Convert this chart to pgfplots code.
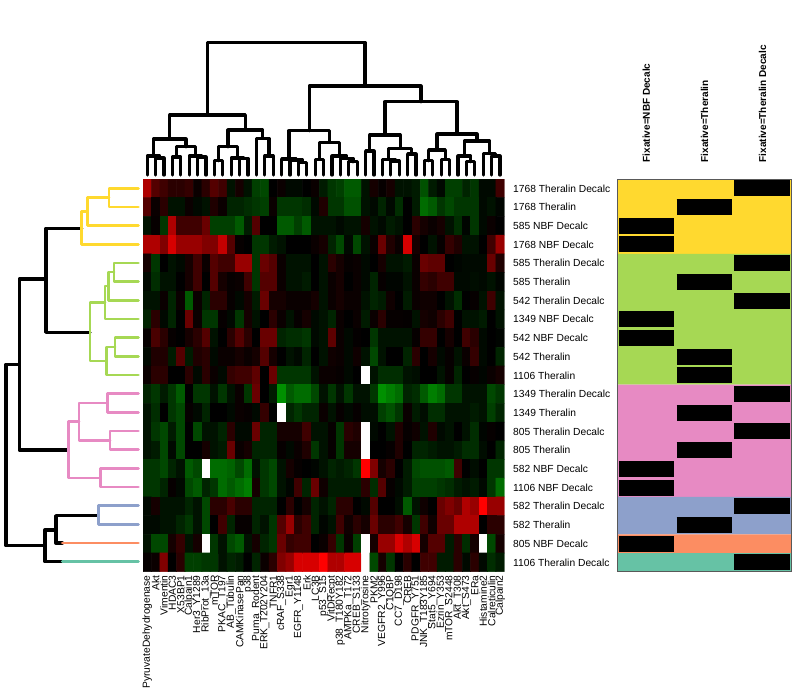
\documentclass[border=0pt]{standalone}
\usepackage{fontspec}
\setmainfont{Liberation Sans}
\usepackage{pgfplots}
\pgfplotsset{compat=1.18}
\definecolor{cyellow}{RGB}{255,217,47}
\definecolor{cgreen}{RGB}{166,216,84}
\definecolor{cpink}{RGB}{231,138,195}
\definecolor{cblue}{RGB}{141,160,203}
\definecolor{corange}{RGB}{252,141,98}
\definecolor{cteal}{RGB}{102,194,165}
\newcommand{\lab}{\fontsize{7.7}{8}\selectfont}
\begin{document}
\begin{tikzpicture}
\path[use as bounding box] (0,0) rectangle (600pt,520.5pt);

% heatmap: values -10 (green) .. 10 (red), 11 = missing (white), top row first
\begin{axis}[
  at={(107.25pt,91.725pt)}, anchor=south west, scale only axis,
  width=270.975pt, height=294.525pt,
  xmin=-0.5, xmax=42.5, ymin=-0.5, ymax=20.5,
  axis line style={draw=none}, major tick length=0, tick style={draw=none},
  colormap={gbr}{[1pt] rgb255(0pt)=(0,180,0); rgb255(10pt)=(0,0,0); rgb255(15pt)=(105,0,0); rgb255(18pt)=(175,0,0); rgb255(20pt)=(255,0,0); rgb255(21pt)=(255,255,255)},
  point meta min=-10, point meta max=11,
  xtick={0,...,42},
  xticklabels={PyruvateDehydrogenase,Akt,Vimentin,HDAC3,X53BP1,Calpain1,Her3\_Y1289,RibProt\_13a,mTOR,PKAC\_T197,AB\_Tubulin,CAMKinasePan,p38,Puma\_Rodent,ERK\_T202Y204,TNFR1,cRAF\_S338,Egr1,EGFR\_Y1148,Erk,LC3B,p53\_S15,VitDRecpt,p38\_T180Y182,AMPKa\_T172,CREB\_S133,Nitrotyrosine,PKM2,VEGFR2\_Y996,C1QBP,CC7\_D198,CREB,PDGFR\_Y751,JNK\_T183Y185,Stat5\_Y694,Ezrin\_Y353,mTOR\_S2448,Akt\_T308,Akt\_S473,ERa,Histamine2,Calreticulin,Calpain2},
  xticklabel style={rotate=90, anchor=east, font=\lab, inner sep=0pt},
  xticklabel shift=2.6pt,
  ytick={0,...,20},
  yticklabels={1106 Theralin Decalc,805 NBF Decalc,582 Theralin,582 Theralin Decalc,1106 NBF Decalc,582 NBF Decalc,805 Theralin,805 Theralin Decalc,1349 Theralin,1349 Theralin Decalc,1106 Theralin,542 Theralin,542 NBF Decalc,1349 NBF Decalc,542 Theralin Decalc,585 Theralin,585 Theralin Decalc,1768 NBF Decalc,585 NBF Decalc,1768 Theralin,1768 Theralin Decalc},
  yticklabel pos=right,
  yticklabel style={anchor=west, font=\lab, inner sep=0pt},
  yticklabel shift=6.5pt,
]
\addplot[matrix plot*, mesh/cols=43, point meta=explicit] table[
  row sep=\\, header=false,
  x expr={mod(\coordindex,43)}, y expr={20-floor((\coordindex+0.5)/43)}, meta index=0] {
8\\4\\3\\2\\2\\2.5\\0.5\\2\\4\\3\\-1\\1\\-1\\-3.5\\-4\\0\\0.5\\-0.5\\-0.5\\0\\0.5\\-1.5\\-3\\-3.5\\-5\\-5\\-1\\1\\0.3\\1\\-1\\-1\\-1.5\\-4.5\\-1.5\\-0.5\\-3.5\\-3.5\\-2\\-3\\-0.5\\-0.5\\3\\
4\\0.5\\2\\-1\\-1\\0.5\\-0.5\\-1\\1.5\\0.5\\-2\\-2\\-2.5\\-3\\-3.5\\0.5\\-3\\-3\\-3\\-2.5\\-0.5\\1.5\\-3\\-3\\-4.5\\-4.5\\-1\\-0.5\\-2\\-0.5\\-2.5\\0\\-1.5\\-6\\-5\\-3\\-4\\-3\\-3\\-3\\-0.5\\-1\\-0.3\\
-1\\0.3\\-3\\8\\3\\3\\3\\5\\-3.5\\-3.5\\-3.5\\-5\\-1.5\\4\\0\\0\\-5\\-5\\-3.5\\-5\\-1\\-1\\-1\\-0.5\\-1\\-1\\1\\-1\\-0.5\\-1.5\\-1\\0\\2\\1\\0.5\\1\\-1\\-2.5\\-0.3\\-3\\-0.5\\0.5\\0\\
8\\8\\6\\9\\7\\7\\7\\6\\6\\8.5\\4\\0.3\\0\\-3\\-3\\-1.5\\-1\\0\\0\\0\\0.5\\1\\-2\\-4\\-0.5\\-4\\-1\\0.5\\5\\1.5\\0.5\\9\\1\\0\\-1\\0.3\\2.5\\1.5\\-1\\-1\\0\\3\\7\\
1\\-3\\0\\-1\\-0.5\\1\\3\\0.5\\4\\3\\3\\7\\7\\-3\\5\\4\\0.5\\-1\\-1\\-1\\0\\-1\\2\\1\\0.3\\0.5\\-0.5\\0\\1\\-1\\-1\\-1.5\\0.5\\5\\4.5\\4.5\\0\\-0.3\\-0.5\\-0.5\\-0.5\\5\\1.5\\
-0.5\\-2.5\\-1\\-1\\0\\1\\3\\0\\4\\1\\0.3\\0.5\\3\\-3\\4\\4\\0.5\\-1\\-1\\-1.5\\0\\-1\\0.5\\1\\0\\0.5\\-0.5\\-2\\0.3\\-0.3\\-0.3\\-1\\0.5\\2.5\\2\\3\\3\\-0.5\\-0.5\\-0.7\\-0.5\\-1\\-0.3\\
-1\\-1\\0.5\\-2\\0.5\\-5\\0.5\\-2\\2\\2\\0.3\\-0.5\\1\\-1.5\\5\\1\\1\\0.5\\0.5\\0.5\\1\\-1\\0.5\\1\\0.5\\0.5\\-1\\-2\\-1.5\\0.7\\0\\-1.5\\0.5\\0.7\\0.7\\0\\-1\\-2.5\\0\\0.3\\-1\\3\\-1\\
-2\\2\\-0.5\\-2\\0\\5\\0.5\\-3\\-3\\0.3\\-0.5\\-3\\1\\-1\\0\\2\\0.5\\-1\\0.3\\1\\-0.5\\-1\\-2\\0.5\\0\\0.5\\-1.5\\0.5\\2\\0.3\\0.3\\0.2\\-1\\1\\0.7\\2\\3\\0\\-1\\-1\\-1.5\\0\\-1\\
0.3\\3.5\\2\\0.3\\0\\1\\2\\4\\-1\\0\\2\\4\\2\\0\\5\\5\\-2\\-2.5\\-2.5\\-3\\-0.5\\-1\\4.5\\0.5\\-0.5\\0.2\\0\\-3\\-1\\-1\\-1\\-1\\0.3\\2.5\\2.5\\0\\1\\0\\3\\2\\-0.5\\0\\-0.3\\
-0.5\\1.5\\1.5\\-1.5\\4\\-1.5\\1.5\\2\\-0.5\\0.5\\0.5\\1\\0.5\\1\\4\\1\\0\\-1\\-0.5\\-2\\0\\-1\\0.7\\0.5\\-0.5\\0.7\\-1\\-4\\-1\\0\\0\\-2\\2\\0\\1\\-0.5\\0.3\\-1\\0.5\\2.5\\-0.5\\0\\-2\\
0.5\\2\\2\\0\\0\\2\\-0.5\\2\\0.5\\-0.5\\2.5\\3\\3\\4.5\\0\\5\\-3\\-3\\-3\\-3\\-1\\0.5\\0.5\\0.3\\-0.5\\0\\11\\-1\\-2.5\\-2.5\\-2.5\\-1\\-0.7\\0\\0\\-1\\0.3\\-2\\0\\0.3\\-0.3\\0.5\\1\\
-2\\-3\\-1.5\\-3\\-5\\0\\-3\\-3\\-1\\-3\\-1\\0.5\\-3\\5\\0\\-1.5\\-8\\-5\\-6\\-6\\-4\\-1\\-3\\-1\\-3\\-1\\-1\\-3\\-8\\-7\\-6\\-2\\-2.5\\-5\\-7\\-6\\-3\\-3\\-1\\-1\\-1\\-4\\-3\\
-1\\-2.5\\0\\-3\\-4\\0.3\\-0.5\\-2\\0\\0\\-0.5\\0.5\\0.3\\-0.5\\2.5\\0\\11\\-2\\-3\\-2\\-2\\0.5\\-1\\0.3\\-0.5\\0.3\\-0.7\\-0.7\\-3.5\\-4.5\\-3\\0.5\\-1.5\\-0.7\\-2.5\\-2.5\\-1\\-1\\-1\\-1.5\\-1\\-3.5\\-2\\
-1\\-3\\-4\\-1.5\\-4\\0\\-4\\-1\\-1\\-2\\2\\-0.5\\-0.5\\5\\-2\\-2\\1\\1\\1\\3\\-1\\-1\\0.3\\-3\\2\\1.5\\11\\-0.5\\0\\-1\\1.5\\0.3\\0.7\\-1\\1.5\\-0.5\\-1\\0\\-1\\-2.5\\-0.3\\0.3\\0\\
-1\\-1.5\\-4\\-0.5\\-4\\0\\0\\1\\-1\\-1.5\\5\\0.5\\1\\-2\\-2\\-2\\0.3\\-0.5\\0.5\\1.5\\-3\\-1\\0.3\\-3\\1\\1\\11\\0\\0\\0.3\\1.5\\0\\-2\\-2\\-1.5\\-1\\-1\\-1.5\\-2.5\\-2.5\\-0.7\\0\\-2\\
-3\\-3\\-4\\-2\\-1\\-5\\-4\\11\\-6\\-6\\-5.5\\-4\\-6\\-1\\-3\\-4\\-1\\1\\0.3\\0\\-0.3\\-1\\-2\\-1.5\\-2\\-3\\10\\6\\1\\2\\0\\-1.5\\-4\\-4.5\\-4.5\\-4.5\\-5\\3\\0\\-0.7\\0\\-3\\-3\\
-3\\-3\\-2\\0.3\\-0.5\\-4\\-5\\-2\\-3\\-6\\-5\\-6\\-7\\1\\-3\\-4\\-1\\-0.3\\3\\-2\\5\\0.7\\-1.5\\-1.5\\-1.5\\-1.5\\2\\-2.5\\4\\0.3\\-0.5\\-1.5\\-3.5\\-3.5\\-3.5\\-3\\-2.5\\-1.5\\-1\\-1.5\\-0.5\\-3\\-6\\
-0.5\\1\\-1\\-1\\-1\\-2\\-1\\-4\\2\\2\\3.5\\2\\2\\-2\\-2\\-2\\0\\2\\0\\1\\-2\\-1\\-2\\2\\2\\0\\-0.5\\4\\0\\0\\-0.7\\-5\\-1\\0.7\\0\\5\\6\\5\\8\\7\\10\\7\\7\\
-0.5\\-0.5\\-1\\-1\\-2\\-3\\-1\\-4\\0\\3\\-2\\0.3\\0.3\\-2\\-1\\-3\\4\\7\\2\\3\\-2\\-0.3\\-1\\3\\0.7\\2\\1\\5\\2\\2\\3\\1\\-3\\3\\0.7\\5\\5\\8\\8\\8\\0\\2\\2\\
-1\\-4\\-4\\1\\2.5\\-1\\1\\11\\-3\\-1\\-4\\-5\\-1\\1\\-2\\-3\\5\\2.5\\3\\3\\0\\0.5\\2.5\\-3\\0.5\\-3.5\\11\\1\\7\\7\\9\\8\\9\\1\\4\\4\\-1.5\\2\\-2.5\\1\\11\\-4\\1\\
0.3\\0.5\\6\\0\\2\\-3.5\\-3.5\\-3\\-3\\-1\\-2\\-1.5\\0\\-2\\0.5\\2\\6\\7\\9\\9\\9\\10\\8\\8\\9\\9\\11\\-4\\1\\-3\\0\\2\\0\\3\\3\\-1.5\\-1.5\\2\\-0.5\\2\\-0.5\\-2.5\\-1.5\\
};
\end{axis}

% annotation panel
\begin{axis}[
  at={(462.975pt,91.725pt)}, anchor=south west, scale only axis,
  width=130.8pt, height=294.525pt,
  xmin=0, xmax=3, ymin=0, ymax=21,
  axis line style={draw=black!65, line width=0.7pt}, axis on top,
  major tick length=0, tick style={draw=none},
  ytick=\empty,
  xtick={0.5,1.5,2.5},
  xticklabels={Fixative=NBF Decalc,Fixative=Theralin,Fixative=Theralin Decalc},
  xticklabel pos=upper,
  xticklabel style={rotate=90, anchor=west, inner sep=0pt, font=\fontsize{7.5}{8}\selectfont\bfseries},
  xticklabel shift=12.4pt,
  unbounded coords=jump,
]
\addplot[fill=cyellow, draw=none] coordinates {(0,17)(3,17)(3,21)(0,21)(0,17)};
\addplot[fill=cgreen, draw=none] coordinates {(0,10)(3,10)(3,17)(0,17)(0,10)};
\addplot[fill=cpink, draw=none] coordinates {(0,4)(3,4)(3,10)(0,10)(0,4)};
\addplot[fill=cblue, draw=none] coordinates {(0,2)(3,2)(3,4)(0,4)(0,2)};
\addplot[fill=corange, draw=none] coordinates {(0,1)(3,1)(3,2)(0,2)(0,1)};
\addplot[fill=cteal, draw=none] coordinates {(0,0)(3,0)(3,1)(0,1)(0,0)};
\addplot[black, line width=12pt] coordinates {
  (0.03,18.5)(0.975,18.5) (nan,nan) (0.03,17.5)(0.975,17.5) (nan,nan)
  (0.03,13.5)(0.975,13.5) (nan,nan) (0.03,12.5)(0.975,12.5) (nan,nan)
  (0.03,5.5)(0.975,5.5) (nan,nan) (0.03,4.5)(0.975,4.5) (nan,nan)
  (0.03,1.5)(0.975,1.5)};
\addplot[black, line width=12pt] coordinates {
  (1.02,19.5)(1.97,19.5) (nan,nan) (1.02,15.5)(1.97,15.5) (nan,nan)
  (1.02,11.5)(1.97,11.5) (nan,nan) (1.02,10.5)(1.97,10.5) (nan,nan)
  (1.02,8.5)(1.97,8.5) (nan,nan) (1.02,6.5)(1.97,6.5) (nan,nan)
  (1.02,2.5)(1.97,2.5)};
\addplot[black, line width=12pt] coordinates {
  (2.01,20.5)(2.97,20.5) (nan,nan) (2.01,16.5)(2.97,16.5) (nan,nan)
  (2.01,14.5)(2.97,14.5) (nan,nan) (2.01,9.5)(2.97,9.5) (nan,nan)
  (2.01,7.5)(2.97,7.5) (nan,nan) (2.01,3.5)(2.97,3.5) (nan,nan)
  (2.01,0.5)(2.97,0.5)};
\end{axis}

% dendrograms, in pixel coordinates of the picture
\begin{axis}[
  at={(0pt,0pt)}, anchor=south west, scale only axis,
  width=600pt, height=520.5pt,
  xmin=0, xmax=800, ymin=0, ymax=694, y dir=reverse,
  hide axis, clip=false, unbounded coords=jump,
  every axis plot/.append style={line cap=round, line join=round},
]
% top tree, columns
\addplot[black, line width=2.4pt] coordinates {
  (155.6,175)(155.6,158)(164,158)(164,175) (nan,nan)
  (147.2,175)(147.2,156)(159.8,156)(159.8,158) (nan,nan)
  (172.4,175)(172.4,157)(180.8,157)(180.8,175) (nan,nan)
  (197.6,175)(197.6,157)(206,157)(206,175) (nan,nan)
  (189.2,175)(189.2,156)(201.8,156)(201.8,157) (nan,nan)
  (176.6,157)(176.6,146.7)(195.5,146.7)(195.5,156) (nan,nan)
  (153.5,156)(153.5,139)(186,139)(186,146.7) (nan,nan)
  (214.4,175)(214.4,160.7)(222.8,160.7)(222.8,175) (nan,nan)
  (239.6,175)(239.6,158.5)(248,158.5)(248,175) (nan,nan)
  (231.2,175)(231.2,158)(243.8,158)(243.8,158.5) (nan,nan)
  (218.6,160.7)(218.6,146.7)(237.5,146.7)(237.5,158) (nan,nan)
  (264.8,175)(264.8,156)(273.2,156)(273.2,175) (nan,nan)
  (256.4,175)(256.4,138.3)(269,138.3)(269,156) (nan,nan)
  (228,146.7)(228,130)(262.7,130)(262.7,138.3) (nan,nan)
  (169.8,139)(169.8,115)(245.4,115)(245.4,130) (nan,nan)
  (298.4,175)(298.4,162.5)(306.8,162.5)(306.8,175) (nan,nan)
  (290,175)(290,160)(302.6,160)(302.6,162.5) (nan,nan)
  (281.6,175)(281.6,159)(296.3,159)(296.3,160) (nan,nan)
  (315.2,175)(315.2,159.3)(323.6,159.3)(323.6,175) (nan,nan)
  (348.8,175)(348.8,161.7)(357.2,161.7)(357.2,175) (nan,nan)
  (340.4,175)(340.4,158.5)(353,158.5)(353,161.7) (nan,nan)
  (332,175)(332,156)(346.7,156)(346.7,158.5) (nan,nan)
  (319.4,159.3)(319.4,142.3)(339.4,142.3)(339.4,156) (nan,nan)
  (289,159)(289,130.7)(329.4,130.7)(329.4,142.3) (nan,nan)
  (365.6,175)(365.6,151)(374,151)(374,175) (nan,nan)
  (390.8,175)(390.8,161)(399.2,161)(399.2,175) (nan,nan)
  (382.4,175)(382.4,159.3)(395,159.3)(395,161) (nan,nan)
  (407.6,175)(407.6,154)(416,154)(416,175) (nan,nan)
  (388.7,159.3)(388.7,148.3)(411.8,148.3)(411.8,154) (nan,nan)
  (369.8,151)(369.8,135)(400.2,135)(400.2,148.3) (nan,nan)
  (424.4,175)(424.4,160.7)(432.8,160.7)(432.8,175) (nan,nan)
  (441.2,175)(441.2,159.3)(449.6,159.3)(449.6,175) (nan,nan)
  (428.6,160.7)(428.6,150)(445.4,150)(445.4,159.3) (nan,nan)
  (466.4,175)(466.4,161.7)(474.8,161.7)(474.8,175) (nan,nan)
  (458,175)(458,156)(470.6,156)(470.6,161.7) (nan,nan)
  (491.6,175)(491.6,156)(500,156)(500,175) (nan,nan)
  (483.2,175)(483.2,153.5)(495.8,153.5)(495.8,156) (nan,nan)
  (464.3,156)(464.3,141)(489.5,141)(489.5,153.5) (nan,nan)
  (437,150)(437,134)(476.9,134)(476.9,141) (nan,nan)
  (385,135)(385,101.7)(457,101.7)(457,134) (nan,nan)
  (309.2,130.7)(309.2,86)(421,86)(421,101.7) (nan,nan)
  (207.6,115)(207.6,42.3)(365,42.3)(365,86)};
% left tree, rows
\addplot[black, line width=2.5pt] coordinates {
  (81.7,228.3)(46,228.3)(46,332.3)(90,332.3) (nan,nan)
  (46,279)(19.3,279)(19.3,450)(68.3,450) (nan,nan)
  (98.3,515.7)(56,515.7)(56,543)(62.3,543) (nan,nan)
  (56,530)(45,530)(45,561.7)(62.3,561.7) (nan,nan)
  (45,545.7)(6,545.7)(6,364.3)(19.3,364.3)};
\addplot[cyellow, line width=2.2pt] coordinates {
  (138.3,188.3)(109,188.3)(109,207)(138.3,207) (nan,nan)
  (109,197.5)(87.3,197.5)(87.3,225.7)(138.3,225.7) (nan,nan)
  (87.3,211.7)(81.7,211.7)(81.7,244.3)(138.3,244.3)};
\addplot[cgreen, line width=2.2pt] coordinates {
  (138.3,263)(114,263)(114,281.7)(138.3,281.7) (nan,nan)
  (114,272)(108.3,272)(108.3,300.3)(138.3,300.3) (nan,nan)
  (108.3,286)(105,286)(105,319)(138.3,319) (nan,nan)
  (105,302.3)(90,302.3)(90,361)(106.7,361) (nan,nan)
  (138.3,337.7)(115,337.7)(115,356.3)(138.3,356.3) (nan,nan)
  (115,347)(106.7,347)(106.7,375)(138.3,375)};
\addplot[cpink, line width=2.2pt] coordinates {
  (138.3,393.7)(107.3,393.7)(107.3,412.3)(138.3,412.3) (nan,nan)
  (138.3,431)(110,431)(110,449.7)(138.3,449.7) (nan,nan)
  (107.3,403)(79,403)(79,440.5)(110,440.5) (nan,nan)
  (138.3,468.3)(100.7,468.3)(100.7,487)(138.3,487) (nan,nan)
  (79,421.7)(68.3,421.7)(68.3,478)(100.7,478)};
\addplot[cblue, line width=2.2pt] coordinates {(138.3,505.7)(98.3,505.7)(98.3,524.3)(138.3,524.3)};
\addplot[corange, line width=2.2pt] coordinates {(62.3,543)(138.3,543)};
\addplot[cteal, line width=2.2pt] coordinates {(62.3,561.7)(138.3,561.7)};
\end{axis}
\end{tikzpicture}
\end{document}
